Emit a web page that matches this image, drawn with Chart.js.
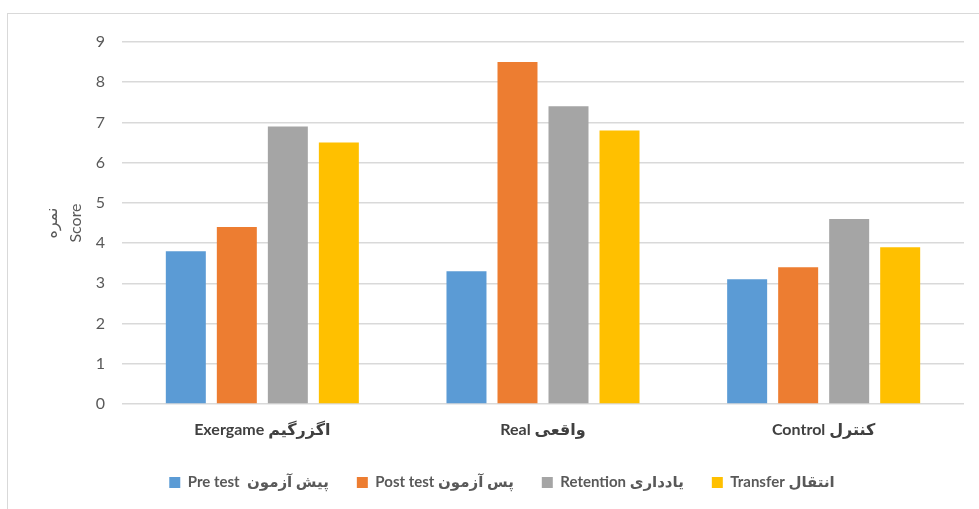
<!DOCTYPE html>
<html><head><meta charset="utf-8">
<script src="https://cdn.jsdelivr.net/npm/chart.js@4"></script>
<style>
html,body{margin:0;padding:0;background:#fff;overflow:hidden}
#frame{position:absolute;left:7px;top:13px;width:1000px;height:600px;border:1px solid #d9d9d9;box-sizing:border-box}
#wrap{position:absolute;left:0;top:0;width:979px;height:509px}
</style></head><body>
<div id="frame"></div>
<div id="wrap"><canvas id="c" width="979" height="509"></canvas></div>
<script>
const categories = ['Exergame اگزرگیم', 'Real واقعی', 'Control کنترل'];
const seriesNames = ['Pre test  پیش آزمون', 'Post test پس آزمون', 'Retention یادداری', 'Transfer انتقال'];
const preTest   = [3.8, 3.3, 3.1];
const postTest  = [4.4, 8.5, 3.4];
const retention = [6.9, 7.4, 4.6];
const transfer  = [6.5, 6.8, 3.9];
const yTickValues = [0, 1, 2, 3, 4, 5, 6, 7, 8, 9];
const yTitle = ['نمره', 'Score'];
const seriesColors = ['#5B9BD5', '#ED7D31', '#A5A5A5', '#FFC000'];

const FONT = "Lato, 'DejaVu Sans', sans-serif";
const seriesValues = [preTest, postTest, retention, transfer];

new Chart(document.getElementById('c'), {
  type: 'bar',
  data: {
    labels: categories,
    datasets: seriesNames.map((name, i) => ({
      label: name,
      data: seriesValues[i],
      backgroundColor: seriesColors[i],
      borderWidth: 0,
      categoryPercentage: 0.727,
      barPercentage: 0.784
    }))
  },
  options: {
    responsive: false,
    animation: false,
    layout: { padding: { left: 40, right: 15, top: 42, bottom: 9 } },
    plugins: {
      tooltip: { enabled: false },
      legend: {
        position: 'bottom',
        labels: {
          boxWidth: 11, boxHeight: 11, padding: 28,
          color: '#595959',
          font: { family: FONT, size: 15, weight: 'bold' }
        }
      }
    },
    scales: {
      x: {
        grid: { display: false, drawTicks: false },
        border: { display: false },
        ticks: { color: '#404040', padding: 16, font: { family: FONT, size: 16, weight: 'bold' } },
        afterFit: s => { s.height = 43; }
      },
      y: {
        min: yTickValues[0], max: yTickValues[yTickValues.length - 1],
        afterBuildTicks: s => { s.ticks = yTickValues.map(v => ({ value: v })); },
        grid: { color: '#d9d9d9', lineWidth: 1.5, drawTicks: false },
        border: { display: false },
        ticks: { color: '#595959', padding: 17, font: { family: FONT, size: 16 } },
        title: { display: true, text: yTitle, color: '#595959', padding: 0, font: { family: FONT, size: 16, lineHeight: 1.5 } },
        afterFit: s => { s.width = 82; }
      }
    }
  }
});
</script>
</body></html>
